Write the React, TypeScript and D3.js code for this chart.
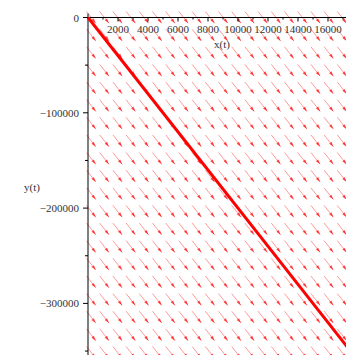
import React, { useEffect, useRef } from 'react'
import * as d3 from 'd3'

// chart size
const width = 346,
      height = 355

// solution curve x(t), y(t)
const curveX = [0, 17300]
const curveY = [0, -346000]

// direction field: slope of every arrow (dy/dx), grid of 20 x 20
const fieldSlope = [-20]
const fieldCols = [0, 880, 1760, 2640, 3520, 4400, 5280, 6160, 7040, 7920, 8800, 9680, 10560, 11440, 12320, 13200, 14080, 14960, 15840, 16720]
const fieldRows = [0, -18500, -37000, -55500, -74000, -92500, -111000, -129500, -148000, -166500, -185000, -203500, -222000, -240500, -259000, -277500, -296000, -314500, -333000, -351500]

// ticks
const xTicks = [2000, 4000, 6000, 8000, 10000, 12000, 14000, 16000]
const xMinor = [1000, 3000, 5000, 7000, 9000, 11000, 13000, 15000, 17000]
const yTicks = [0, -100000, -200000, -300000]
const yMinor = [-50000, -150000, -250000, -350000]

const xScale = d3.scaleLinear().domain([0, 17200]).range([88, 346])
const yScale = d3.scaleLinear().domain([0, -100000]).range([17.5, 112.8])

const font = '"Liberation Serif", "DejaVu Serif", serif'

export default function App () {
  const ref = useRef<SVGSVGElement>(null)

  useEffect(() => {
    const svg = d3.select(ref.current)
    svg.selectAll('*').remove()

    // 箭头
    const field = svg.append('g').attr('id', 'field')
    const arrowLen = 15
    const dxPix = Math.abs(xScale(1000) - xScale(0))
    const dyPix = Math.abs(yScale(fieldSlope[0] * 1000) - yScale(0))
    const norm = Math.sqrt(dxPix * dxPix + dyPix * dyPix)
    const ux = dxPix / norm, uy = dyPix / norm
    fieldRows.forEach(ry => {
      fieldCols.forEach(cx => {
        const x0 = xScale(cx) - 1.5, y0 = yScale(ry) - 6
        const x1 = x0 + ux * arrowLen, y1 = y0 + uy * arrowLen
        field.append('line')
             .attr('x1', x0).attr('y1', y0)
             .attr('x2', x1).attr('y2', y1)
             .attr('stroke', '#ff0000')
             .attr('stroke-opacity', 0.4)
             .attr('stroke-width', 1)
        // head
        const hx = x1 - ux * 5, hy = y1 - uy * 5
        const px = -uy * 1.5, py = ux * 1.5
        field.append('path')
             .attr('d', `M${x1},${y1}L${hx + px},${hy + py}L${hx - px},${hy - py}Z`)
             .attr('fill', '#ff0000')
             .attr('fill-opacity', 0.7)
      })
    })

    // axes
    const axes = svg.append('g').attr('id', 'axes')
    axes.append('line')
        .attr('x1', xScale(0)).attr('x2', width)
        .attr('y1', yScale(0)).attr('y2', yScale(0))
        .attr('stroke', '#000').attr('stroke-width', 1)
    axes.append('line')
        .attr('x1', xScale(0)).attr('x2', xScale(0))
        .attr('y1', yScale(0) - 4).attr('y2', height)
        .attr('stroke', '#000').attr('stroke-width', 1)

    axes.selectAll('.xt').data(xTicks).enter().append('line')
        .attr('x1', d => xScale(d)).attr('x2', d => xScale(d))
        .attr('y1', yScale(0)).attr('y2', yScale(0) + 4)
        .attr('stroke', '#000')
    axes.selectAll('.xm').data(xMinor).enter().append('line')
        .attr('x1', d => xScale(d)).attr('x2', d => xScale(d))
        .attr('y1', yScale(0)).attr('y2', yScale(0) + 2)
        .attr('stroke', '#000')
    axes.selectAll('.xl').data(xTicks).enter().append('text')
        .attr('x', d => xScale(d)).attr('y', 33)
        .attr('text-anchor', 'middle')
        .attr('font-family', font).attr('font-size', 11)
        .attr('fill', '#333')
        .text(d => d)

    axes.selectAll('.yt').data(yTicks).enter().append('line')
        .attr('x1', xScale(0) - 5).attr('x2', xScale(0))
        .attr('y1', d => yScale(d)).attr('y2', d => yScale(d))
        .attr('stroke', '#000')
    axes.selectAll('.ym').data(yMinor).enter().append('line')
        .attr('x1', xScale(0) - 3).attr('x2', xScale(0))
        .attr('y1', d => yScale(d)).attr('y2', d => yScale(d))
        .attr('stroke', '#000')
    axes.selectAll('.yl').data(yTicks).enter().append('text')
        .attr('x', 79).attr('y', d => yScale(d) + 4)
        .attr('text-anchor', 'end')
        .attr('font-family', font).attr('font-size', 11)
        .attr('fill', '#333')
        .text(d => d === 0 ? '0' : '\u2212' + Math.abs(d))

    axes.append('text')
        .attr('x', 222).attr('y', 48)
        .attr('text-anchor', 'middle')
        .attr('font-family', font).attr('font-size', 11)
        .attr('fill', '#333')
        .text('x(t)')
    axes.append('text')
        .attr('x', 32).attr('y', 191)
        .attr('text-anchor', 'middle')
        .attr('font-family', font).attr('font-size', 11)
        .attr('fill', '#333')
        .text('y(t)')

    // 解曲线
    const line = d3.line<number>()
                   .x(d => xScale(d))
                   .y((d, i) => yScale(curveY[i]))
    svg.append('path')
       .attr('d', line(curveX))
       .attr('fill', 'none')
       .attr('stroke', '#ff0000')
       .attr('stroke-width', 3)
  }, [])

  return (
    <svg ref={ref} width={width} height={height}
         style={{ position: 'absolute', left: 0, top: 0, background: '#fff' }} />
  )
}
